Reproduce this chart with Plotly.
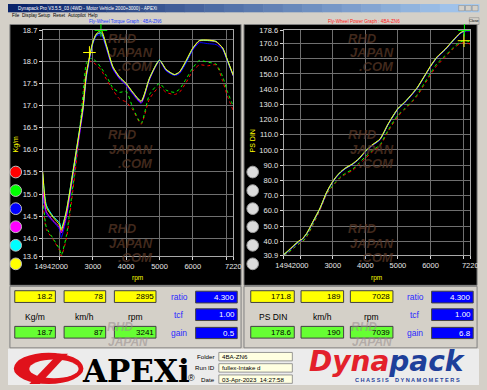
import plotly.graph_objects as go

W, H = 487, 390
def X(p): return p / W
def Y(p): return 1 - p / H

# ---------------- data ----------------
rpm = [1494, 1600, 1800, 2000, 2050, 2200, 2400, 2600, 2700, 2800, 2900, 3000, 3100, 3250,
       3400, 3600, 3800, 4000, 4200, 4450, 4700, 5000, 5200, 5450, 5600, 5800, 6000, 6200,
       6450, 6700, 6900, 7050, 7220]

torque_red = [14.9, 14.2, 13.98, 13.72, 13.6, 13.98, 15.1, 16.35, 17.1, 17.8, 18.0, 17.98, 17.92, 17.8,
              17.6, 17.35, 17.15, 17.08, 16.9, 16.58, 17.15, 17.42, 17.3, 17.25, 17.3, 17.52, 17.78, 17.92,
              17.9, 17.92, 17.55, 17.2, 16.88]
torque_green = [15.0, 14.25, 14.0, 13.75, 13.62, 14.05, 15.2, 16.45, 17.25, 17.95, 18.07, 18.05, 18.0, 17.85,
                17.68, 17.4, 17.3, 17.32, 16.95, 16.6, 17.25, 17.5, 17.35, 17.3, 17.37, 17.6, 17.85, 18.02,
                17.98, 17.94, 17.65, 17.3, 16.98]
torque_blue = [15.0, 14.55, 14.38, 14.2, 14.02, 14.45, 15.4, 16.35, 16.85, 17.6, 18.05, 18.4, 18.57, 18.6,
               18.3, 17.82, 17.6, 17.45, 17.25, 17.05, 17.58, 18.0, 17.78, 17.68, 17.72, 17.96, 18.25, 18.42,
               18.4, 18.38, 18.26, 17.98, 17.66]
torque_magenta = [15.1, 14.6, 14.4, 14.25, 14.12, 14.5, 15.45, 16.4, 16.9, 17.65, 18.08, 18.42, 18.6, 18.64,
                  18.33, 17.85, 17.62, 17.48, 17.28, 17.07, 17.6, 18.02, 17.8, 17.7, 17.75, 18.0, 18.28, 18.46,
                  18.47, 18.44, 18.29, 18.0, 17.67]
torque_cyan = [15.45, 14.75, 14.5, 14.35, 14.22, 14.62, 15.52, 16.47, 16.95, 17.68, 18.1, 18.43, 18.6, 18.65,
               18.35, 17.87, 17.64, 17.5, 17.3, 17.1, 17.62, 18.03, 17.81, 17.7, 17.76, 18.0, 18.29, 18.47,
               18.47, 18.45, 18.3, 18.01, 17.68]
torque_yellow = [15.5, 14.7, 14.48, 14.3, 14.18, 14.6, 15.5, 16.45, 16.95, 17.7, 18.12, 18.45, 18.62, 18.7,
                 18.38, 17.88, 17.65, 17.5, 17.3, 17.1, 17.62, 18.02, 17.82, 17.7, 17.76, 18.02, 18.3, 18.47,
                 18.48, 18.45, 18.3, 18.02, 17.68]

power_red = [30.7, 31.8, 35.4, 38.7, 39.1, 42.8, 51.0, 60.0, 65.0, 70.2, 73.6, 76.1, 78.7, 81.9,
             84.1, 86.4, 90.2, 94.4, 98.4, 102.6, 112.1, 122.1, 126.3, 131.8, 135.7, 142.5, 149.3, 155.5,
             161.0, 166.5, 169.8, 170.5, 169.6]
power_green = [30.9, 32.0, 35.6, 39.0, 39.4, 43.2, 51.5, 60.6, 65.8, 70.8, 74.0, 76.5, 79.2, 82.5,
               84.8, 87.2, 91.3, 95.5, 99.3, 103.5, 113.0, 123.0, 127.0, 132.5, 136.6, 143.5, 150.5, 156.8,
               162.0, 167.3, 170.8, 171.9, 170.8]
power_blue = [30.9, 32.6, 36.5, 40.2, 40.8, 44.6, 52.6, 60.8, 65.6, 71.0, 75.2, 78.8, 81.8, 85.2,
              87.8, 90.3, 93.8, 98.6, 102.6, 106.6, 116.6, 126.7, 130.7, 136.6, 140.7, 147.6, 154.6, 160.6,
              165.7, 171.7, 176.2, 178.0, 178.3]
power_magenta = [31.0, 32.9, 36.8, 40.5, 41.0, 44.9, 52.9, 61.1, 66.0, 71.4, 75.5, 79.0, 82.0, 85.5,
                 88.0, 90.5, 94.0, 98.9, 102.9, 106.9, 116.9, 127.0, 131.0, 137.0, 141.0, 147.9, 154.9, 160.9,
                 166.0, 172.0, 176.5, 178.3, 178.4]
power_cyan = [31.1, 33.0, 37.0, 40.7, 41.1, 45.0, 53.0, 61.2, 66.2, 71.5, 75.6, 79.1, 82.1, 85.6,
              88.1, 90.6, 94.1, 99.0, 103.0, 107.0, 117.0, 127.1, 131.1, 137.1, 141.1, 148.0, 155.0, 161.0,
              166.1, 172.1, 176.6, 178.4, 178.5]
power_yellow = [31.2, 33.2, 37.2, 40.8, 41.2, 45.2, 53.2, 61.3, 66.4, 71.7, 75.8, 79.3, 82.3, 85.8,
                88.3, 90.8, 94.3, 99.2, 103.2, 107.2, 117.2, 127.3, 131.3, 137.3, 141.3, 148.2, 155.2, 161.2,
                166.3, 172.3, 176.8, 178.5, 178.6]

run_colors = ["#ff0000", "#00ff00", "#0000ff", "#ff00ff", "#00ffff", "#ffff00"]
run_dash = ["dot", "dot", "solid", "solid", "solid", "solid"]
torque_runs = [torque_red, torque_green, torque_blue, torque_magenta, torque_cyan, torque_yellow]
power_runs = [power_red, power_green, power_blue, power_magenta, power_cyan, power_yellow]

cursor_rpm_torque, cursor_torque = [2895], [18.2]
max_rpm_torque, max_torque = [3241], [18.7]
cursor_rpm_power, cursor_power = [7028], [171.8]
max_rpm_power, max_power = [7039], [178.6]

x_tickvals = [1494, 2000, 3000, 4000, 5000, 6000, 7000, 7220]
x_ticktext = ["1494", "2000", "3000", "4000", "5000", "6000", "", "7220"]
t_tickvals = [13.6, 14.0, 14.5, 15.0, 15.5, 16.0, 16.5, 17.0, 17.5, 18.0, 18.5, 18.7]
t_ticktext = ["13.6", "14.0", "14.5", "15.0", "15.5", "16.0", "16.5", "17.0", "17.5", "18.0", "", "18.7"]
p_tickvals = [30.9, 40, 50, 60, 70, 80, 90, 100, 110, 120, 130, 140, 150, 160, 170, 178.6]
p_ticktext = ["30.9", "40.0", "50.0", "60.0", "70.0", "80.0", "90.0", "100.0", "110.0", "120.0",
              "130.0", "140.0", "150.0", "160.0", "170.0", "178.6"]

left_cursor = ["18.2", "78", "2895"]
left_max = ["18.7", "87", "3241"]
left_units = ["Kg/m", "km/h", "rpm"]
right_cursor = ["171.8", "189", "7028"]
right_max = ["178.6", "190", "7039"]
right_units = ["PS DIN", "km/h", "rpm"]
left_params = ["4.300", "1.00", "0.5"]
right_params = ["4.300", "1.00", "6.8"]
param_names = ["ratio", "tcf", "gain"]

# ---------------- figure ----------------
fig = go.Figure()
for vals, col, dash in zip(torque_runs, run_colors, run_dash):
    fig.add_trace(go.Scatter(x=rpm, y=vals, mode="lines", xaxis="x", yaxis="y",
                             line=dict(color=col, width=1, dash=dash, shape="spline", smoothing=0.6),
                             hoverinfo="skip"))
for vals, col, dash in zip(power_runs, run_colors, run_dash):
    fig.add_trace(go.Scatter(x=rpm, y=vals, mode="lines", xaxis="x2", yaxis="y2",
                             line=dict(color=col, width=1, dash=dash, shape="spline", smoothing=0.6),
                             hoverinfo="skip"))
for xs, ys, ax, col in [(cursor_rpm_torque, cursor_torque, ("x", "y"), "#ffff00"),
                        (max_rpm_torque, max_torque, ("x", "y"), "#00ff00"),
                        (cursor_rpm_power, cursor_power, ("x2", "y2"), "#ffff00"),
                        (max_rpm_power, max_power, ("x2", "y2"), "#00ff00")]:
    fig.add_trace(go.Scatter(x=xs, y=ys, mode="markers", xaxis=ax[0], yaxis=ax[1], cliponaxis=False,
                             marker=dict(symbol="cross-thin", size=9, line=dict(color=col, width=1)),
                             hoverinfo="skip"))

shapes, ann = [], []
FONT = "Liberation Sans, Arial, sans-serif"

def rect(x0, y0, x1, y1, fill, line=None, lw=0, layer="below"):
    shapes.append(dict(type="rect", xref="paper", yref="paper", x0=X(x0), x1=X(x1), y0=Y(y1), y1=Y(y0),
                       fillcolor=fill, line=dict(color=line or fill, width=lw), layer=layer))

def ellipse(x0, y0, x1, y1, fill, line=None, lw=0):
    shapes.append(dict(type="circle", xref="paper", yref="paper", x0=X(x0), x1=X(x1), y0=Y(y1), y1=Y(y0),
                       fillcolor=fill, line=dict(color=line or fill, width=lw), layer="below"))

def text(x, y, s, size=7, color="black", xanchor="center", family=FONT, angle=0):
    ann.append(dict(x=X(x), y=Y(y), xref="paper", yref="paper", text=s, showarrow=False,
                    font=dict(size=size, color=color, family=family), xanchor=xanchor,
                    yanchor="middle", textangle=angle, borderpad=0))

# title bar gradient
n = 24
c0, c1 = (10, 36, 106), (166, 202, 240)
for i in range(n):
    t = i / (n - 1)
    col = "rgb(%d,%d,%d)" % tuple(int(a + (b - a) * t) for a, b in zip(c0, c1))
    rect(W * i / n, 0, W * (i + 1) / n + 0.5, 8.5, col)
for bx in [466, 473, 480]:
    rect(bx, 1.5, bx + 6, 7, "#d4d0c8", "#808080", 0.5)
text(9, 4.3, "Dynapack Pro V3.5.5_03 (4WD - Motor Vehicle 2000+3000) - APEXi", 4.6, "white", "left")
for name, mx in [("File", 3), ("Display", 13), ("Setup", 30), ("Reset", 46), ("Autopilot", 61), ("Help", 82)]:
    text(mx, 11.3, name, 4.6, "black", "left")
text(122, 17.6, "Fly-Wheel Torque Graph : 4BA-ZN6", 4.6, "#1c3cff")
text(368, 17.6, "Fly-Wheel Power Graph : 4BA-ZN6", 4.6, "#ff2020")
rect(477, 14, 487, 21, "#d4d0c8", "#808080", 0.5)
text(482, 17.5, "Close", 3.8)

# black graph panels
rect(2, 21, 241, 288, "black", "#808080", 1)
rect(244, 21, 485, 288, "black", "#808080", 1)

# colour run buttons
btn_y = [172, 191, 209.5, 228, 247, 266]
for col, by in zip(run_colors, btn_y):
    ellipse(2, by - 6, 14, by + 6, col, "#c0c0c0", 1)
    ellipse(247, by - 6, 259, by + 6, "#dcdcdc", "#a0a0a0", 1)

# axis titles
text(8, 143, "Kg/m", 7, "#ffff00", angle=-90)
text(253, 140, "PS DIN", 7, "#ffff00", angle=-90)
text(134, 280, "rpm", 6.5, "#ffff00")
text(381, 280, "rpm", 6.5, "#ffff00")

# watermarks
wm = "rgba(92,58,40,0.72)"
for dx in [0, 249]:
    for y0 in [35, 134, 230]:
        text(118 + dx, y0, "<b><i>RHD</i></b>", 13, wm)
        text(127 + dx, y0 + 15, "<b><i>JAPAN</i></b>", 13, wm)
        text(132 + dx, y0 + 29, "<b><i>.COM</i></b>", 13, wm)

# info panels
rect(2, 289, 241, 352, "#d4d0c8", "#808080", 1)
rect(244, 289, 485, 352, "#d4d0c8", "#808080", 1)
rect(0, 353, W, H, "#ececec")

wm2 = "rgba(150,140,140,0.55)"
for dx in [0, 252]:
    text(116 + dx, 331, "<b><i>RHD</i></b>", 12, wm2)
    text(124 + dx, 346, "<b><i>JAPAN</i></b>", 12, wm2)

def info_block(xs, cursor, maxv, units, px0, params, name_x):
    for (x0, x1), cv, mv, un in zip(xs, cursor, maxv, units):
        rect(x0, 293.5, x1, 305.5, "#ffff00", "#404040", 1)
        text(x1 - 1.5, 299.8, cv, 8, "black", "right")
        text((x0 + x1) / 2, 320, un, 8.5, "black")
        rect(x0, 330, x1, 342, "#66ff33", "#404040", 1)
        text(x1 - 1.5, 336.3, mv, 8, "black", "right")
    for (y0, y1), pv, pn in zip([(294, 306), (312, 324), (331, 342.5)], params, param_names):
        rect(px0, y0, px0 + 43, y1, "#0000ff", "#404040", 1)
        text(px0 + 41.5, (y0 + y1) / 2 + 0.3, pv, 8, "white", "right")
        text(name_x, (y0 + y1) / 2 + 0.3, pn, 8.5, "#2a2aff")

info_block([(7, 49), (58, 101), (110, 153)], left_cursor, left_max, left_units, 194, left_params, 177)
info_block([(251, 296), (303, 347), (354, 398)], right_cursor, right_max, right_units, 438, right_params, 421)

# folder / run / date
for (lab, val), yy in zip([("Folder", "4BA-ZN6"), ("Run ID", "fullex-Intake d"),
                           ("Date", "03-Apr-2023  14:27:58")], [361, 372.5, 384]):
    text(215, yy, lab, 6.2, "black", "right")
    rect(218, yy - 4.3, 294, yy + 4.3, "#ffffe1", "#808080", 0.8)
    text(220, yy, val, 6.2, "black", "left")

# APEXi logo
ellipse(6, 357, 78, 389, "#e0121b")
ellipse(22, 364, 73, 383, "#ececec")
shapes.append(dict(type="path", xref="paper", yref="paper", layer="below", fillcolor="#e0121b",
                   line=dict(width=0),
                   path="M %f %f L %f %f L %f %f L %f %f Z" % (X(22), Y(389), X(33), Y(389),
                                                             X(62), Y(358), X(52), Y(358))))
text(132, 376, "<b>APEXi</b>", 31, "black", family="DejaVu Serif, Liberation Serif, serif")
text(190, 383, "®", 9, "black")

# Dynapack logo
text(392, 365.5, "<b><i><span style='color:#e3212b'>Dyna</span><span style='color:#1e3f9a'>pack</span></i></b>",
     28, "#e3212b", family="DejaVu Sans, sans-serif")
text(413, 385, "<b>C H A S S I S    D Y N A M O M E T E R S</b>", 5.6, "#1e3f9a")

axis_common = dict(showgrid=True, gridcolor="#6f6f6f", gridwidth=1, showline=True, linecolor="#a8a8a8",
                   linewidth=1, mirror=True, ticks="outside", ticklen=3, tickcolor="#d8d8d8",
                   tickfont=dict(size=7.5, color="#e6e6e6", family=FONT), zeroline=False,
                   tickangle=0, fixedrange=True, tickmode="array")

fig.update_layout(
    width=W, height=H, autosize=False, margin=dict(l=0, r=0, t=0, b=0, pad=0),
    paper_bgcolor="#d4d0c8", plot_bgcolor="black", showlegend=False,
    xaxis=dict(domain=[X(36), X(233)], range=[1494, 7220], tickvals=x_tickvals, ticktext=x_ticktext,
               anchor="y", **axis_common),
    yaxis=dict(domain=[Y(258), Y(27)], range=[13.6, 18.7], tickvals=t_tickvals, ticktext=t_ticktext,
               anchor="x", **axis_common),
    xaxis2=dict(domain=[X(285), X(478)], range=[1494, 7220], tickvals=x_tickvals, ticktext=x_ticktext,
                anchor="y2", **axis_common),
    yaxis2=dict(domain=[Y(257), Y(27)], range=[30.9, 178.6], tickvals=p_tickvals, ticktext=p_ticktext,
                anchor="x2", **axis_common),
    shapes=shapes, annotations=ann,
)

fig.write_html("out.html")
